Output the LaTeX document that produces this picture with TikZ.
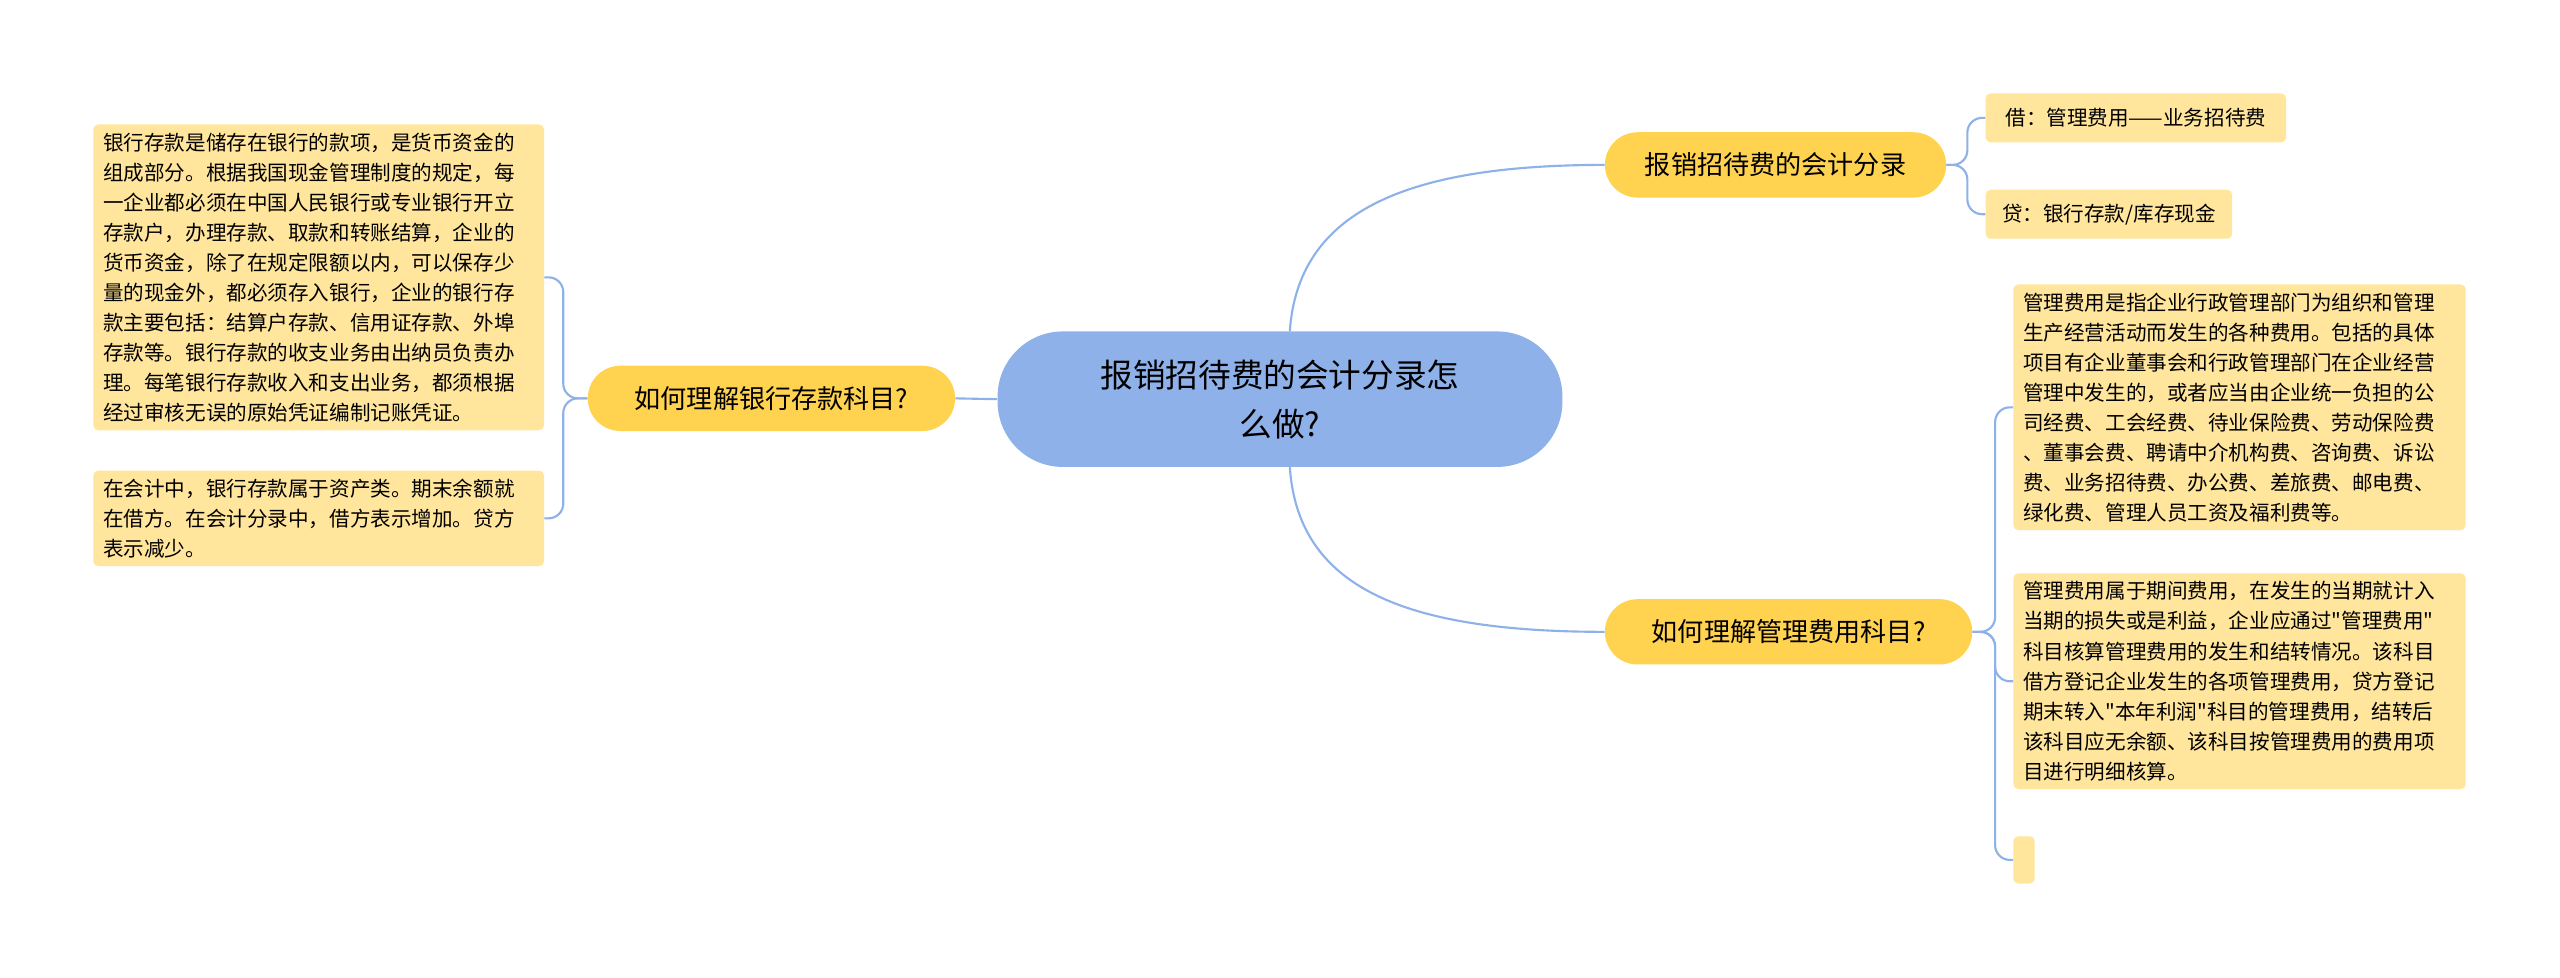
\documentclass[tikz,border=0pt]{standalone}
\usepackage{fontspec}
\newfontfamily\cjk{Noto Sans CJK SC}
\definecolor{cblue}{HTML}{8FB1EA}
\definecolor{cyel}{HTML}{FFD24F}
\definecolor{cpale}{HTML}{FFE69C}
\begin{document}
\begin{tikzpicture}[x=1pt,y=-1pt,
 leaf/.style={fill=cpale,rounded corners=3pt,align=left,inner xsep=6pt,inner ysep=5pt,font=\cjk\fontsize{12.6}{18.4}\selectfont,anchor=north west},
 mid/.style={fill=cyel,rounded corners=20pt,font=\cjk\fontsize{16}{20}\selectfont,minimum height=40pt},
 conn/.style={draw=cblue,line width=1.3pt,rounded corners=9pt}]
\fill[white] (0,0) rectangle (1568,599);
\node[fill=cblue,rounded corners=40pt,minimum width=346pt,minimum height=83pt,align=center,font=\cjk\fontsize{20}{30}\selectfont] (c) at (784,244.5) {报销招待费的会计分录怎\\么做?};
\node[mid,minimum width=209pt] (a) at (1087.5,101) {报销招待费的会计分录};
\node[mid,minimum width=225pt] (m) at (1095.5,387) {如何理解管理费用科目?};
\node[mid,minimum width=225pt] (b) at (472.5,244) {如何理解银行存款科目?};
\node[leaf,minimum width=184pt,minimum height=30pt] (a1) at (1216,57) {借：管理费用——业务招待费};
\node[leaf,minimum width=151pt,minimum height=30pt] (a2) at (1216,116) {贷：银行存款/库存现金};
\node[leaf,text width=265pt] (m1) at (1233,174) {管理费用是指企业行政管理部门为组织和管理\\生产经营活动而发生的各种费用。包括的具体\\项目有企业董事会和行政管理部门在企业经营\\管理中发生的，或者应当由企业统一负担的公\\司经费、工会经费、待业保险费、劳动保险费\\、董事会费、聘请中介机构费、咨询费、诉讼\\费、业务招待费、办公费、差旅费、邮电费、\\绿化费、管理人员工资及福利费等。};
\node[leaf,text width=265pt] (m2) at (1233,351) {管理费用属于期间费用，在发生的当期就计入\\当期的损失或是利益，企业应通过"管理费用"\\科目核算管理费用的发生和结转情况。该科目\\借方登记企业发生的各项管理费用，贷方登记\\期末转入"本年利润"科目的管理费用，结转后\\该科目应无余额、该科目按管理费用的费用项\\目进行明细核算。};
\node[leaf,minimum width=13pt,minimum height=29pt,inner xsep=0pt] (m3) at (1233,512) {};
\node[leaf,text width=264pt] (b1) at (57,76) {银行存款是储存在银行的款项，是货币资金的\\组成部分。根据我国现金管理制度的规定，每\\一企业都必须在中国人民银行或专业银行开立\\存款户，办理存款、取款和转账结算，企业的\\货币资金，除了在规定限额以内，可以保存少\\量的现金外，都必须存入银行，企业的银行存\\款主要包括：结算户存款、信用证存款、外埠\\存款等。银行存款的收支业务由出纳员负责办\\理。每笔银行存款收入和支出业务，都须根据\\经过审核无误的原始凭证编制记账凭证。};
\node[leaf,text width=264pt] (b2) at (57,288) {在会计中，银行存款属于资产类。期末余额就\\在借方。在会计分录中，借方表示增加。贷方\\表示减少。};
\coordinate (ct) at (790,203);
\coordinate (cb) at (790,286);
\draw[draw=cblue,line width=1.3pt] (ct) .. controls (795,130) and (860,101) .. (a.west);
\draw[draw=cblue,line width=1.3pt] (cb) .. controls (795,360) and (860,387) .. (m.west);
\draw[draw=cblue,line width=1.3pt] (c.west) -- (b.east);
\draw[conn] (a.east) -- (1205,101) |- (a1.west);
\draw[conn] (a.east) -- (1205,101) |- (a2.west);
\draw[conn] (m.east) -- (1222,387) |- (m1.west);
\draw[conn] (m.east) -- (1222,387) |- (m2.west);
\draw[conn] (m.east) -- (1222,387) |- (m3.west);
\draw[conn] (b.west) -- (345,244) |- (b1.east);
\draw[conn] (b.west) -- (345,244) |- (b2.east);
\end{tikzpicture}
\end{document}
